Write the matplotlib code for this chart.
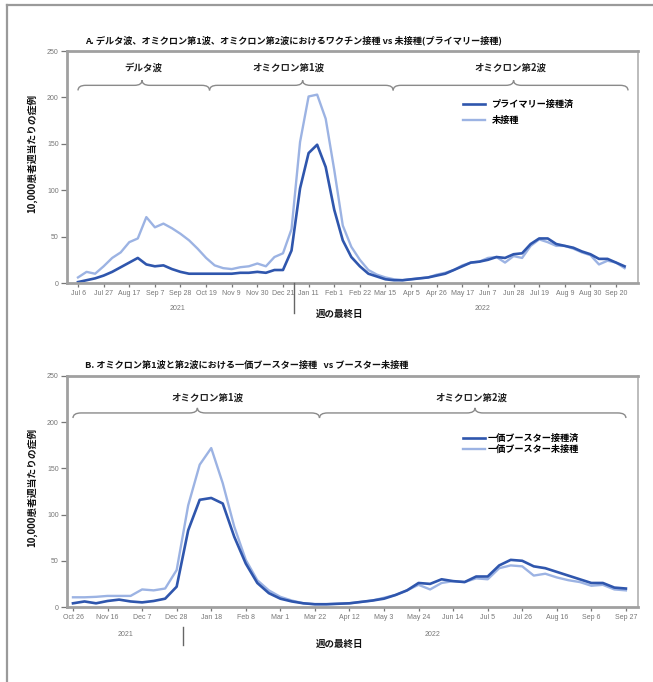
import matplotlib
matplotlib.use("Agg")
import matplotlib.pyplot as plt
from matplotlib.path import Path
from matplotlib.patches import PathPatch, Rectangle
from matplotlib.lines import Line2D

plt.rcParams['font.family'] = ['Noto Sans CJK JP', 'DejaVu Sans']

# ---------------- data ----------------
# Panel A: weekly, from Jul 6 2021
a_ticklabels = ['Jul 6', 'Jul 27', 'Aug 17', 'Sep 7', 'Sep 28', 'Oct 19', 'Nov 9', 'Nov 30',
                'Dec 21', 'Jan 11', 'Feb 1', 'Feb 22', 'Mar 15', 'Apr 5', 'Apr 26', 'May 17',
                'Jun 7', 'Jun 28', 'Jul 19', 'Aug 9', 'Aug 30', 'Sep 20']
a_vaccinated = [1, 3, 5, 8, 12, 17, 22, 27, 20, 18, 19, 15, 12, 10, 10, 10, 10, 10, 10, 11,
                11, 12, 11, 14, 14, 35, 102, 140, 149, 125, 79, 46, 28, 18, 10, 7, 4, 3, 3, 4,
                5, 6, 8, 10, 14, 18, 22, 23, 25, 28, 27, 31, 32, 42, 48, 48, 42, 40, 38, 34,
                31, 26, 26, 22, 18]
a_unvaccinated = [6, 12, 10, 18, 27, 33, 44, 48, 71, 60, 64, 59, 53, 46, 37, 27, 19, 16, 15, 17,
                  18, 21, 18, 28, 32, 58, 152, 201, 203, 177, 122, 62, 39, 25, 14, 9, 6, 4, 3, 4,
                  5, 6, 9, 11, 14, 19, 22, 23, 27, 28, 22, 29, 27, 40, 47, 44, 40, 40, 37, 33,
                  30, 20, 24, 22, 16]
a_labels = ['プライマリー接種済', '未接種']
a_waves = ['デルタ波', 'オミクロン第1波', 'オミクロン第2波']

# Panel B: weekly, from Oct 26 2021
b_ticklabels = ['Oct 26', 'Nov 16', 'Dec 7', 'Dec 28', 'Jan 18', 'Feb 8', 'Mar 1', 'Mar 22',
                'Apr 12', 'May 3', 'May 24', 'Jun 14', 'Jul 5', 'Jul 26', 'Aug 16', 'Sep 6', 'Sep 27']
b_boosted = [4, 6, 4, 6.5, 8, 6, 5, 6.5, 9, 22, 83, 116, 118, 112, 76, 47, 26, 15, 9, 6,
             4, 3, 3, 3.5, 4, 5.5, 7, 9, 13, 18, 26, 25, 30, 28, 27, 33, 33, 45, 51, 50,
             44, 42, 38, 34, 30, 26, 26, 21, 20]
b_unboosted = [10.5, 10.5, 11, 12, 12, 12, 19, 18, 20, 40, 110, 154, 172, 134, 87, 51, 29, 18, 11, 7,
               4, 3, 3, 3.5, 4, 5.5, 7, 10, 13, 18, 24, 19, 26, 28, 27, 31, 30, 42, 45, 44,
               34, 36, 32, 29, 27, 23, 24, 19, 18]
b_labels = ['一価ブースター接種済', '一価ブースター未接種']
b_waves = ['オミクロン第1波', 'オミクロン第2波']

title_a = 'A. デルタ波、オミクロン第1波、オミクロン第2波におけるワクチン接種 vs 未接種(プライマリー接種)'
title_b = 'B. オミクロン第1波と第2波における一価ブースター接種   vs ブースター未接種'
ylabel = '10,000患者週当たりの症例'
xlabel = '週の最終日'
years = ['2021', '2022']

# ---------------- style ----------------
W, H = 653, 682
DARK = '#2f56ad'
LIGHT = '#9cb3e3'
GRAY = '#8a8a8a'
TICKC = '#777777'

fig = plt.figure(figsize=(W / 100, H / 100), dpi=100)

def fx(px):
    return px / W

def fy(py):
    return 1 - py / H

# outer frame (left & top)
fig.add_artist(Line2D([fx(7), fx(7)], [fy(5), 0], color='#9a9a9a', lw=1.6))
fig.add_artist(Line2D([fx(7), 1], [fy(5), fy(5)], color='#9a9a9a', lw=1.6))


def bracket(ax, x0, xc, x1, y, h, w):
    verts = [(x0, y - h), (x0, y), (x0 + w, y),
             (xc - w, y), (xc, y), (xc, y + h),
             (xc, y), (xc + w, y),
             (x1 - w, y), (x1, y), (x1, y - h)]
    codes = [Path.MOVETO, Path.CURVE3, Path.CURVE3,
             Path.LINETO, Path.CURVE3, Path.CURVE3,
             Path.CURVE3, Path.CURVE3,
             Path.LINETO, Path.CURVE3, Path.CURVE3]
    ax.add_patch(PathPatch(Path(verts, codes), fill=False, edgecolor=GRAY, lw=1.0, clip_on=False))


def setup_axes(rect, xlim, ticklabels):
    ax = fig.add_axes(rect)
    ax.set_xlim(*xlim)
    ax.set_ylim(0, 250)
    ax.set_yticks(range(0, 251, 50))
    ax.set_xticks(range(0, 3 * len(ticklabels), 3))
    ax.set_xticklabels(ticklabels, family=['Liberation Sans Narrow', 'Liberation Sans', 'DejaVu Sans'])
    for lab in ax.get_yticklabels():
        lab.set_family(['Liberation Sans Narrow', 'Liberation Sans', 'DejaVu Sans'])
    ax.tick_params(axis='both', labelsize=5, colors=TICKC, length=3, width=0.9, pad=2)
    ax.tick_params(axis='y', length=4)
    for s in ['left', 'bottom', 'top']:
        ax.spines[s].set_color('#a0a0a0')
        ax.spines[s].set_linewidth(2.0)
    ax.spines['right'].set_color('#b0b0b0')
    ax.spines['right'].set_linewidth(1.2)
    return ax

# ---------------- Panel A ----------------
axA = setup_axes([fx(67), fy(283), fx(638) - fx(67), fy(51) - fy(283)], (-1.29, 65.57), a_ticklabels)
xa = list(range(len(a_vaccinated)))
axA.plot(xa, a_unvaccinated, color=LIGHT, lw=1.7, label=a_labels[1], solid_joinstyle='round')
axA.plot(xa, a_vaccinated, color=DARK, lw=1.9, label=a_labels[0], solid_joinstyle='round')
hA, lA = axA.get_legend_handles_labels()
axA.legend(hA[::-1], lA[::-1], loc='upper left', bbox_to_anchor=(fx(463), fy(100)),
           bbox_transform=fig.transFigure, frameon=False, fontsize=6.6, handlelength=2.4,
           handletextpad=0.7, labelspacing=0.75, borderpad=0, borderaxespad=0,
           prop={'weight': 'bold', 'size': 6.6})

bracket(axA, 0, 7.5, 15.4, 213, 5.5, 0.9)
bracket(axA, 15.4, 26.3, 36.9, 213, 5.5, 0.9)
bracket(axA, 36.9, 51.0, 64.4, 213, 5.5, 0.9)
for xc, t in zip([7.6, 24.7, 50.6], a_waves):
    axA.text(xc, 232, t, ha='center', va='center', fontsize=6.8, fontweight='bold', color='#222222')

fig.text(fx(85), fy(40), title_a, ha='left', va='center', fontsize=6.6, fontweight='bold', color='#111111')
fig.text(fx(32), fy(153), ylabel, rotation=90, ha='center', va='center', fontsize=7,
         fontweight='bold', color='#111111')
fig.text(fx(340), fy(314), xlabel, ha='center', va='center', fontsize=6.8, fontweight='bold', color='#111111')
fig.text(fx(177), fy(309), years[0], ha='center', va='center', fontsize=5, color=TICKC,
         family=['Liberation Sans Narrow', 'Liberation Sans', 'DejaVu Sans'])
fig.text(fx(483), fy(309), years[1], ha='center', va='center', fontsize=5, color=TICKC,
         family=['Liberation Sans Narrow', 'Liberation Sans', 'DejaVu Sans'])
fig.add_artist(Line2D([fx(294), fx(294)], [fy(283), fy(313)], color='#666666', lw=1.0))

# ---------------- Panel B ----------------
axB = setup_axes([fx(67), fy(607), fx(638) - fx(67), fy(376) - fy(607)], (-0.52, 49.05), b_ticklabels)
xb = list(range(len(b_boosted)))
axB.plot(xb, b_unboosted, color=LIGHT, lw=1.7, label=b_labels[1], solid_joinstyle='round')
axB.plot(xb, b_boosted, color=DARK, lw=1.9, label=b_labels[0], solid_joinstyle='round')
hB, lB = axB.get_legend_handles_labels()
axB.legend(hB[::-1], lB[::-1], loc='upper left', bbox_to_anchor=(fx(463), fy(434)),
           bbox_transform=fig.transFigure, frameon=False, handlelength=2.4,
           handletextpad=0.3, labelspacing=0.2, borderpad=0, borderaxespad=0,
           prop={'weight': 'bold', 'size': 6.6})

bracket(axB, 0, 10.8, 21.4, 210, 5.5, 0.7)
bracket(axB, 21.4, 34.9, 48.0, 210, 5.5, 0.7)
for xc, t in zip([11.7, 34.6], b_waves):
    axB.text(xc, 227, t, ha='center', va='center', fontsize=6.8, fontweight='bold', color='#222222')

fig.text(fx(85), fy(365), title_b, ha='left', va='center', fontsize=6.6, fontweight='bold', color='#111111')
fig.text(fx(32), fy(487), ylabel, rotation=90, ha='center', va='center', fontsize=7,
         fontweight='bold', color='#111111')
fig.text(fx(340), fy(644), xlabel, ha='center', va='center', fontsize=6.8, fontweight='bold', color='#111111')
fig.text(fx(125), fy(635), years[0], ha='center', va='center', fontsize=5, color=TICKC,
         family=['Liberation Sans Narrow', 'Liberation Sans', 'DejaVu Sans'])
fig.text(fx(433), fy(635), years[1], ha='center', va='center', fontsize=5, color=TICKC,
         family=['Liberation Sans Narrow', 'Liberation Sans', 'DejaVu Sans'])
fig.add_artist(Line2D([fx(183), fx(183)], [fy(627), fy(645)], color='#666666', lw=1.0))

fig.savefig('out.png', dpi=100)
